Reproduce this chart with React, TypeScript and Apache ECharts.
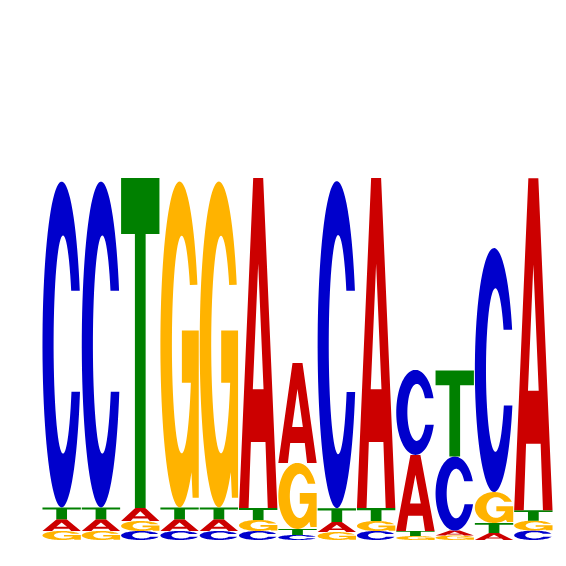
import React, { useEffect, useRef } from "react";
import * as echarts from "echarts";

// Sequence logo: 13 positions, letter heights in bits
const positions = ["1", "2", "3", "4", "5", "6", "7", "8", "9", "10", "11", "12", "13"];
const letters = ["A", "C", "G", "T"];
const heightA = [0.064, 0.064, 0.072, 0.064, 0.064, 1.823, 0.552, 0.055, 1.823, 0.42, 0.027, 0.039, 1.834];
const heightC = [1.8, 1.8, 0.05, 0.05, 0.05, 0.05, 0.028, 1.807, 0.05, 0.47, 0.409, 1.348, 0.052];
const heightG = [0.05, 0.05, 0.055, 1.8, 1.8, 0.061, 0.365, 0.044, 0.055, 0.022, 0.025, 0.171, 0.055];
const heightT = [0.066, 0.066, 1.823, 0.066, 0.066, 0.066, 0.033, 0.077, 0.072, 0.028, 0.475, 0.055, 0.058];
const letterColors = ["#CC0000", "#0000CC", "#FFB300", "#008000"];

type Pt = [number, number];
const TWO_PI = Math.PI * 2;

function arc(cx: number, cy: number, rx: number, ry: number, a0: number, a1: number, n: number): Pt[] {
  const pts: Pt[] = [];
  for (let j = 0; j <= n; j++) {
    const t = a0 + ((a1 - a0) * j) / n;
    pts.push([cx + rx * Math.cos(t), cy - ry * Math.sin(t)]);
  }
  return pts;
}

// Glyph outlines in a 0..100 unit box (y downward)
const glyphA: Pt[][] = [
  [[0, 100], [37, 0], [63, 0], [100, 100], [75, 100], [69, 80], [31, 80], [25, 100]],
  [[36, 64], [64, 64], [50, 26]],
];
const glyphC: Pt[][] = [
  [
    ...arc(50, 50, 50, 50, 0.336, TWO_PI - 0.294, 80),
    ...arc(53.5, 50, 24.5, 33.5, TWO_PI - 0.448, 0.515, 60),
  ],
];
const glyphG: Pt[][] = [
  [
    ...arc(50, 50, 50, 50, 0.375, TWO_PI - 0.902, 80),
    [84, 97],
    [100, 97],
    [100, 45.7],
    [56, 45.7],
    [56, 61.7],
    ...arc(55.5, 50, 25.5, 33.4, TWO_PI - 0.358, 0.58, 60),
  ],
];
const glyphT: Pt[][] = [
  [[0, 0], [100, 0], [100, 17], [64, 17], [64, 100], [36, 100], [36, 17], [0, 17]],
];
const GLYPHS = [glyphA, glyphC, glyphG, glyphT];

function buildData(): number[][] {
  const heights = [heightA, heightC, heightG, heightT];
  const out: number[][] = [];
  positions.forEach((_, i) => {
    const order = [0, 1, 2, 3].sort((a, b) => heights[a][i] - heights[b][i]);
    let y = 0;
    order.forEach((k) => {
      const h = heights[k][i];
      out.push([i, y, y + h, k]);
      y += h;
    });
  });
  return out;
}

export default function App() {
  const ref = useRef<HTMLDivElement>(null);
  useEffect(() => {
    if (!ref.current) return;
    const chart = echarts.init(ref.current, null, { renderer: "svg" });
    chart.setOption({
      animation: false,
      backgroundColor: "#ffffff",
      grid: { left: 42, right: 13, top: 178, bottom: 26 },
      xAxis: { type: "value", min: 0, max: positions.length, show: false },
      yAxis: { type: "value", min: 0, max: 2, show: false },
      series: [
        {
          type: "custom",
          name: letters.join(""),
          data: buildData(),
          encode: { x: 0, y: [1, 2] },
          renderItem: (params: any, api: any) => {
            const i = api.value(0);
            const y0 = api.value(1);
            const y1 = api.value(2);
            const k = api.value(3);
            const pBL = api.coord([i + 0.012, y0]);
            const pTR = api.coord([i + 0.988, y1]);
            const x0 = pBL[0];
            const w = pTR[0] - pBL[0];
            const yT = pTR[1];
            const hh = pBL[1] - pTR[1];
            let d = "";
            for (const contour of GLYPHS[k]) {
              contour.forEach(([u, v], j) => {
                d += (j === 0 ? "M" : "L") + (x0 + (u / 100) * w).toFixed(2) + " " + (yT + (v / 100) * hh).toFixed(2) + " ";
              });
              d += "Z ";
            }
            return { type: "path", shape: { pathData: d }, style: { fill: letterColors[k] } };
          },
        },
      ],
    });
    return () => chart.dispose();
  }, []);
  return <div ref={ref} style={{ position: "fixed", left: 0, top: 0, width: 566, height: 566 }} />;
}
